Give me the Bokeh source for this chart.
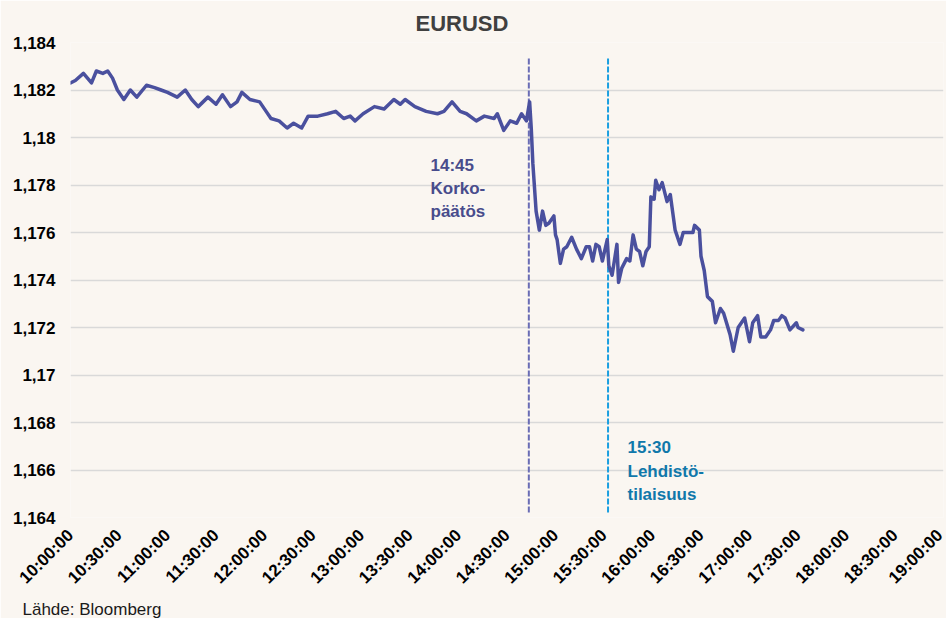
import math
from bokeh.plotting import figure
from bokeh.models import FixedTicker, Label, Range1d, Title
from bokeh.embed import file_html
from bokeh.resources import INLINE

# ---------------- data ----------------
times = ["10:00","10:03","10:08","10:13","10:16","10:20","10:23","10:26","10:29","10:33",
         "10:37","10:41","10:47","10:52","10:56","11:00","11:06","11:11","11:15","11:19",
         "11:25","11:30","11:34","11:39","11:43","11:46","11:51","11:57","12:01","12:04",
         "12:09","12:14","12:18","12:23","12:27","12:33","12:39","12:44","12:49","12:53",
         "12:56","13:01","13:08","13:14","13:20","13:24","13:27","13:33","13:40","13:47",
         "13:51","13:56","14:01","14:05","14:11","14:16","14:22","14:24","14:28","14:32",
         "14:36","14:39","14:42","14:44","14:45","14:46","14:48","14:50","14:52","14:54",
         "14:56","14:59","15:00","15:01","15:03","15:05","15:07","15:10","15:13","15:16",
         "15:19","15:21","15:23","15:25","15:27","15:29","15:32","15:33","15:35","15:38",
         "15:39","15:41","15:44","15:46","15:48","15:50","15:52","15:54","15:56","15:58",
         "15:59","16:01","16:02","16:04","16:06","16:09","16:11","16:14","16:17","16:19",
         "16:22","16:25","16:26","16:29","16:30","16:32","16:34","16:37","16:39","16:42",
         "16:44","16:48","16:50","16:53","16:57","17:00","17:02","17:05","17:07","17:10",
         "17:13","17:15","17:18","17:20","17:22","17:25","17:29","17:30","17:33"]
rates = [1.1823,1.1824,1.1827,1.1823,1.1828,1.1827,1.1828,1.1825,1.1820,1.1816,
         1.1820,1.1817,1.1822,1.1821,1.1820,1.1819,1.1817,1.1820,1.1816,1.1813,
         1.1817,1.1814,1.1818,1.1813,1.1815,1.1819,1.1816,1.1815,1.1811,1.1808,
         1.1807,1.1804,1.1806,1.1804,1.1809,1.1809,1.1810,1.1811,1.1808,1.1809,
         1.1807,1.1810,1.1813,1.1812,1.1816,1.1814,1.1816,1.1813,1.1811,1.1810,
         1.1811,1.1815,1.1811,1.1810,1.1807,1.1809,1.1808,1.1810,1.1803,1.1807,
         1.1806,1.1810,1.1807,1.1815,1.1804,1.1789,1.1769,1.1761,1.1769,1.1763,
         1.1764,1.1767,1.1759,1.1757,1.1747,1.1753,1.1754,1.1758,1.1753,1.1749,
         1.1754,1.1754,1.1748,1.1755,1.1754,1.1748,1.1757,1.1746,1.1742,1.1755,
         1.1739,1.1745,1.1749,1.1748,1.1759,1.1753,1.1752,1.1746,1.1752,1.1754,
         1.1775,1.1774,1.1782,1.1778,1.1781,1.1773,1.1776,1.1761,1.1755,1.1760,
         1.1760,1.1760,1.1763,1.1761,1.1750,1.1744,1.1733,1.1731,1.1722,1.1728,
         1.1726,1.1717,1.1710,1.1720,1.1724,1.1714,1.1722,1.1725,1.1716,1.1716,
         1.1719,1.1723,1.1723,1.1725,1.1724,1.1719,1.1722,1.1720,1.1719]

x_tick_labels = ["10:00:00","10:30:00","11:00:00","11:30:00","12:00:00","12:30:00",
                 "13:00:00","13:30:00","14:00:00","14:30:00","15:00:00","15:30:00",
                 "16:00:00","16:30:00","17:00:00","17:30:00","18:00:00","18:30:00","19:00:00"]
y_ticks = [1.164,1.166,1.168,1.170,1.172,1.174,1.176,1.178,1.180,1.182,1.184]
y_tick_labels = ["1,164","1,166","1,168","1,17","1,172","1,174","1,176","1,178","1,18","1,182","1,184"]

event_times = ["14:43:30", "15:32:30"]
event_texts = [["14:45", "Korko-", "päätös"], ["15:30", "Lehdistö-", "tilaisuus"]]
title_text = "EURUSD"
source_text = "Lähde: Bloomberg"


def to_min(t):
    parts = [int(s) for s in t.split(":")]
    while len(parts) < 3:
        parts.append(0)
    return parts[0] * 60 + parts[1] + parts[2] / 60.0 - 600


xs = [to_min(t) for t in times]
x_ticks = [to_min(t) for t in x_tick_labels]

# ---------------- layout ----------------
W, H = 946, 618
FR_L, FR_R, FR_T, FR_B = 70, 943, 42, 517   # pixels of plot frame
X0, X1 = x_ticks[0], x_ticks[-1]
Y0, Y1 = y_ticks[0], y_ticks[-1]


def px_x(px):
    return X0 + (px - FR_L) / (FR_R - FR_L) * (X1 - X0)


def px_y(py):
    return Y1 - (py - FR_T) / (FR_B - FR_T) * (Y1 - Y0)


BG = "#faf6f1"
FONT = "Liberation Sans"

p = figure(width=W, height=H, output_backend="svg", toolbar_location=None,
           x_range=Range1d(X0, X1), y_range=Range1d(Y0, Y1),
           min_border_left=FR_L, min_border_right=W - FR_R,
           min_border_top=FR_T, min_border_bottom=H - FR_B)
p.background_fill_color = BG
p.border_fill_color = BG
p.outline_line_color = None

# title (left aligned with offset so that it sits where the reference has it)
p.title = Title(text=title_text, align="left", offset=415 - FR_L,
                text_font=FONT, text_font_style="bold", text_font_size="22px",
                text_color="#404040", standoff=14)

p.xgrid.grid_line_color = None
p.ygrid.grid_line_color = "#d9d9d9"
p.ygrid.grid_line_width = 1.5
p.ygrid.ticker = FixedTicker(ticks=y_ticks)

p.xaxis.ticker = FixedTicker(ticks=x_ticks)
p.xaxis.major_label_overrides = {x: l for x, l in zip(x_ticks, x_tick_labels)}
p.xaxis.major_label_orientation = math.pi / 4
p.yaxis.ticker = FixedTicker(ticks=y_ticks)
p.yaxis.major_label_overrides = {y: l for y, l in zip(y_ticks, y_tick_labels)}

for ax in (p.xaxis, p.yaxis):
    ax.axis_line_color = None
    ax.major_tick_line_color = None
    ax.minor_tick_line_color = None
    ax.major_tick_out = 0
    ax.major_tick_in = 0
    ax.minor_tick_out = 0
    ax.major_label_text_font = FONT
    ax.major_label_text_font_style = "bold"
    ax.major_label_text_font_size = "17px"
    ax.major_label_text_color = "#000000"
p.xaxis.major_label_standoff = 15
p.yaxis.major_label_standoff = 15

# source note below the axis
p.add_layout(Title(text=source_text, align="left", offset=22 - FR_L,
                   text_font=FONT, text_font_style="normal", text_font_size="17px",
                   text_color="#1a1a1a", standoff=0), "below")

# event lines
ev_colors = ["#6a6db5", "#1a9fe0"]
txt_colors = ["#484c8c", "#1078aa"]
for t, c in zip(event_times, ev_colors):
    m = to_min(t)
    p.segment(x0=[m], y0=[px_y(512)], x1=[m], y1=[px_y(58)],
              line_color=c, line_width=2, line_dash="6 2")

# series
p.line(xs, rates, line_color="#4a509e", line_width=3.5,
       line_join="round", line_cap="round")

# annotation texts
ann_pos = [(430, [165, 188, 211]), (627, [447, 471, 494])]
for (ax_px, baselines), lines, c in zip(ann_pos, event_texts, txt_colors):
    for by, s in zip(baselines, lines):
        p.add_layout(Label(x=px_x(ax_px), y=px_y(by), text=s, text_font=FONT,
                           text_font_style="bold", text_font_size="17px",
                           text_color=c, text_align="left",
                           text_baseline="alphabetic"))

open("out.html", "w").write(file_html(p, INLINE))
